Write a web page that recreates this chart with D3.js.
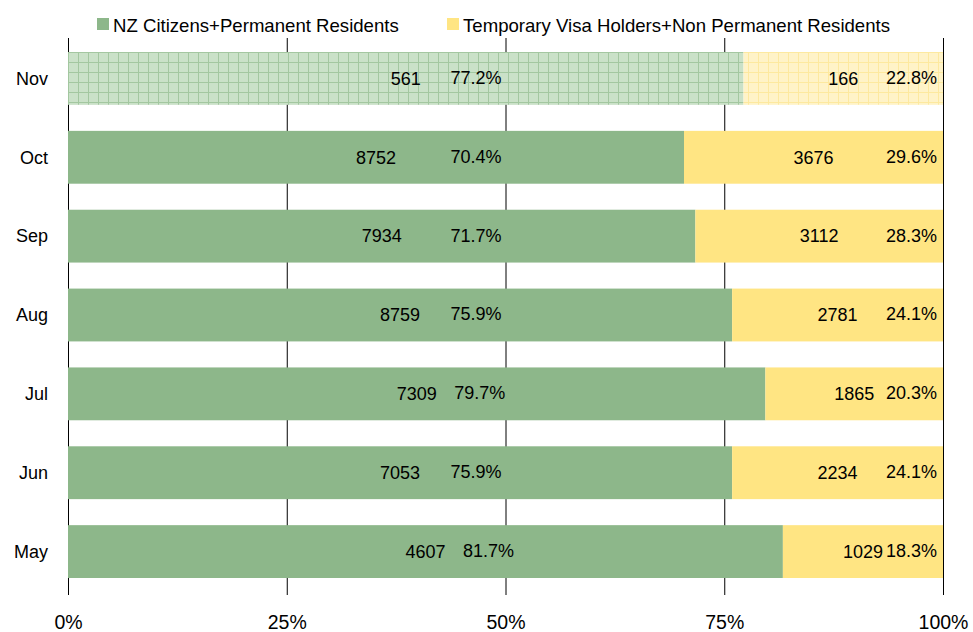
<!DOCTYPE html>
<html>
<head>
<meta charset="utf-8">
<script src="https://cdn.jsdelivr.net/npm/d3@7"></script>
<style>
  body { margin: 0; background: #fff; }
  text { font-family: "Liberation Sans", Arial, sans-serif; fill: #000; }
</style>
</head>
<body>
<div id="chart"></div>
<script>
// data, bottom row first
var months = ["May", "Jun", "Jul", "Aug", "Sep", "Oct", "Nov"];
var nzCounts = [4607, 7053, 7309, 8759, 7934, 8752, 561];
var tempCounts = [1029, 2234, 1865, 2781, 3112, 3676, 166];
var nzPct = [81.7, 75.9, 79.7, 75.9, 71.7, 70.4, 77.2];
var tempPct = [18.3, 24.1, 20.3, 24.1, 28.3, 29.6, 22.8];
var seriesNames = ["NZ Citizens+Permanent Residents", "Temporary Visa Holders+Non Permanent Residents"];
var tickLabels = ["0%", "25%", "50%", "75%", "100%"];
var partialMonth = "Nov"; // drawn with a hatched lighter fill

var width = 973, height = 632;
var green = "#8db78a", yellow = "#ffe583";

var svg = d3.select("#chart").append("svg")
  .attr("width", width)
  .attr("height", height);

// patterns for the partial month
var defs = svg.append("defs");
function makePattern(id, bg, line) {
  var p = defs.append("pattern")
    .attr("id", id)
    .attr("patternUnits", "userSpaceOnUse")
    .attr("width", 10).attr("height", 10)
    .attr("x", 68).attr("y", 52);
  p.append("rect").attr("width", 10).attr("height", 10).attr("fill", bg);
  p.append("path").attr("d", "M0,0.5H10M0.5,0V10")
    .attr("stroke", line).attr("stroke-width", 1);
}
makePattern("gridGreen", "#cae1c8", "#a3c7a0");
makePattern("gridYellow", "#fff3c8", "#fde99f");

var data = months.map(function(m, i) {
  return { month: m, nz: nzCounts[i], tmp: tempCounts[i], pNz: nzPct[i] / 100, pTmp: tempPct[i] / 100 };
});

var x = d3.scaleLinear().domain([0, 1]).range([68, 943]);
var y = d3.scaleBand()
  .domain(months.slice().reverse())
  .range([39, 591])
  .paddingInner(0.33)
  .paddingOuter(0.165);

// gridlines + tick labels
var axis = svg.append("g")
  .attr("transform", "translate(0,595)")
  .call(d3.axisBottom(x)
    .tickValues([0, 0.25, 0.5, 0.75, 1])
    .tickFormat(function(d, i) { return tickLabels[i]; })
    .tickSize(-(595 - 38))
    .tickPadding(20));
axis.select(".domain").remove();
axis.selectAll(".tick line").attr("stroke", "#000").attr("stroke-width", 1);
axis.selectAll(".tick text")
  .style("font-family", "'Liberation Sans', Arial, sans-serif")
  .style("font-size", "19.5px").attr("fill", "#000");

// bars
var rows = svg.append("g").selectAll("g")
  .data(data)
  .enter().append("g");

rows.append("rect")
  .attr("x", x(0))
  .attr("y", function(d) { return y(d.month); })
  .attr("width", function(d) { return x(d.pNz) - x(0); })
  .attr("height", y.bandwidth())
  .attr("fill", function(d) { return d.month === partialMonth ? "url(#gridGreen)" : green; });

rows.append("rect")
  .attr("x", function(d) { return x(d.pNz); })
  .attr("y", function(d) { return y(d.month); })
  .attr("width", function(d) { return x(1) - x(d.pNz); })
  .attr("height", y.bandwidth())
  .attr("fill", function(d) { return d.month === partialMonth ? "url(#gridYellow)" : yellow; });

var mid = function(d) { return y(d.month) + y.bandwidth() / 2; };
var greenMid = function(d) { return (x(0) + x(d.pNz)) / 2; };

// count labels at segment centres, percentages beside them
rows.append("text")
  .attr("x", greenMid)
  .attr("y", mid).attr("dy", "0.35em")
  .attr("text-anchor", "middle")
  .style("font-size", "18px")
  .text(function(d) { return d.nz; });

rows.append("text")
  .attr("x", function(d) { return Math.max(476, greenMid(d) + 63); })
  .attr("y", mid).attr("dy", "0.3em")
  .attr("text-anchor", "middle")
  .style("font-size", "18px")
  .text(function(d) { return d3.format(".1f")(d.pNz * 100) + "%"; });

rows.append("text")
  .attr("x", function(d) { return (x(d.pNz) + x(1)) / 2; })
  .attr("y", mid).attr("dy", "0.35em")
  .attr("text-anchor", "middle")
  .style("font-size", "18px")
  .text(function(d) { return d.tmp; });

rows.append("text")
  .attr("x", x(1) - 6)
  .attr("y", mid).attr("dy", "0.3em")
  .attr("text-anchor", "end")
  .style("font-size", "18px")
  .text(function(d) { return d3.format(".1f")(d.pTmp * 100) + "%"; });

// month labels
svg.append("g").selectAll("text")
  .data(months)
  .enter().append("text")
  .attr("x", 48)
  .attr("y", function(m) { return y(m) + y.bandwidth() / 2; })
  .attr("dy", "0.35em")
  .attr("text-anchor", "end")
  .style("font-size", "18px")
  .text(function(m) { return m; });

// legend
var legend = svg.append("g");
var legX = [97, 447];
seriesNames.forEach(function(name, i) {
  legend.append("rect")
    .attr("x", legX[i]).attr("y", 18)
    .attr("width", 12).attr("height", 12)
    .attr("fill", i === 0 ? green : yellow);
  legend.append("text")
    .attr("x", legX[i] + 16).attr("y", 25)
    .attr("dy", "0.35em")
    .style("font-size", "18.6px")
    .text(name);
});
</script>
</body>
</html>
